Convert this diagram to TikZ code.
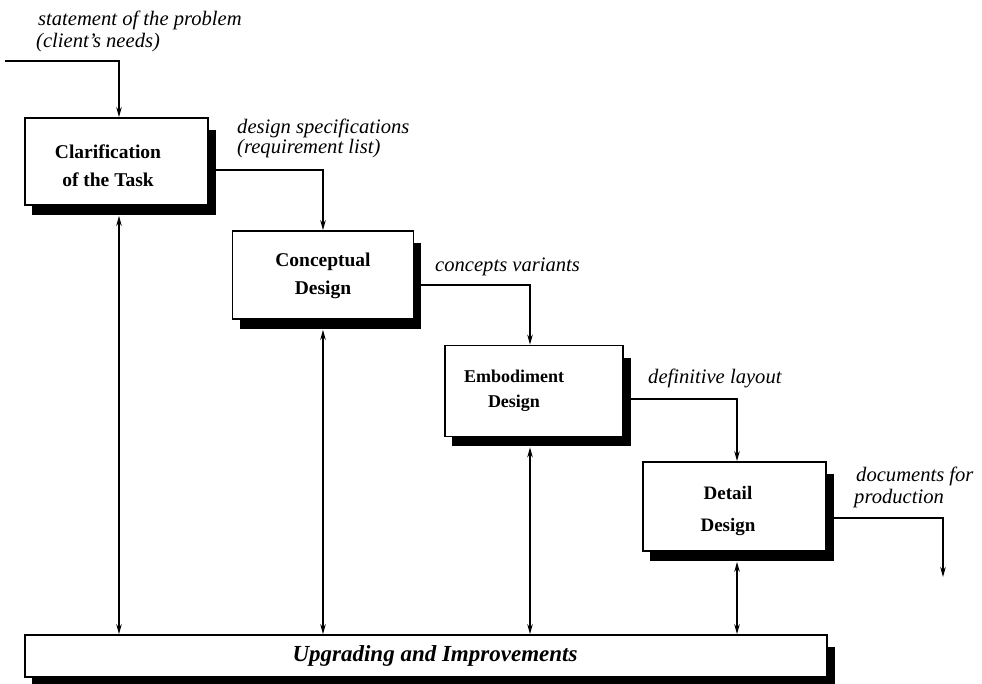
\documentclass[tikz,border=0pt]{standalone}
\usepackage{fontspec}
\setmainfont{Liberation Serif}
\usetikzlibrary{arrows.meta,calc,backgrounds}

\begin{document}
\begin{tikzpicture}[x=1pt,y=-1pt,
  panel/.style={draw=black, line width=1.8pt, fill=white, inner sep=0pt},
  caption/.style={align=center, inner sep=0pt, font=\bfseries\fontsize{19.5}{28}\selectfont},
  shade/.style={fill=black},
  tip/.tip={Stealth[length=10pt,width=5.5pt]},
  flow/.style={line width=1.3pt, -tip},
  link/.style={line width=1.3pt, tip-tip},
  lbl/.style={font=\itshape\fontsize{20.6}{24}\selectfont, inner sep=0pt, anchor=base west}]

\useasboundingbox (0,0) rectangle (982,683);

% columns and rows of the connectors
\coordinate (c1) at (119,0);
\coordinate (c2) at (323,0);
\coordinate (c3) at (530,0);
\coordinate (c4) at (737,0);
\coordinate (r1) at (0,170);
\coordinate (r2) at (0,285);
\coordinate (r3) at (0,399);
\coordinate (r4) at (0,518);
\coordinate (in) at (5,61);
\coordinate (out) at (943,577);

% design phases
\node[panel, minimum width=183pt, minimum height=87pt] (b1) at (116.5,161.5) {};
\node[panel, minimum width=181pt, minimum height=88pt] (b2) at (323,275) {};
\node[panel, minimum width=178pt, minimum height=91pt] (b3) at (534,391) {};
\node[panel, minimum width=183pt, minimum height=89pt] (b4) at (734.5,506.5) {};
\node[panel, minimum width=802pt, minimum height=42pt] (bar) at (426,656) {};

\node[caption] (b1t) at (108,166) {Clarification\\of the Task};
\node[caption] (b2t) at (323,276) {Conceptual\\Design};
\node[caption, font=\bfseries\fontsize{18}{25}\selectfont] (b3t) at (514,391) {Embodiment\\Design};
\node[caption, font=\bfseries\fontsize{19}{32}\selectfont] (b4t) at (728,511) {Detail\\Design};
\node[inner sep=0pt, font=\bfseries\itshape\fontsize{23}{26}\selectfont] (bart) at (435,656) {Upgrading and Improvements};

% drop shadows behind the boxes
\begin{scope}[on background layer]
  \foreach \b in {b1,b2,b3,b4}
    \fill[shade] ($(\b.north west)+(8,13)$) rectangle ($(\b.south east)+(7,9)$);
  \fill[shade] ($(bar.north west)+(8,13)$) rectangle ($(bar.south east)+(7,7)$);
\end{scope}

% results passed between phases
\node[lbl] (t1) at (38,25) {statement of the problem};
\node[lbl] (t2) at (36,47) {(client's needs)};
\node[lbl] (t3) at (237,133) {design specifications};
\node[lbl] (t4) at (237,153) {(requirement list)};
\node[lbl] (t5) at (435,271) {concepts variants};
\node[lbl] (t6) at (648,383) {definitive layout};
\node[lbl] (t7) at (856,481) {documents for};
\node[lbl] (t8) at (854,503) {production};

% flow through the phases
\draw[flow] (in) -| (b1.north -| c1);
\draw[flow] (b1.east |- r1) -| (b2.north -| c2);
\draw[flow] (b2.east |- r2) -| (b3.north -| c3);
\draw[flow] (b3.east |- r3) -| (b4.north -| c4);
\draw[flow] (b4.east |- r4) -| (out);

% feedback with upgrading and improvements
\draw[link] ($(b1.south -| c1)+(0,10)$) -- (bar.north -| c1);
\draw[link] ($(b2.south -| c2)+(0,10)$) -- (bar.north -| c2);
\draw[link] ($(b3.south -| c3)+(0,10)$) -- (bar.north -| c3);
\draw[link] ($(b4.south -| c4)+(0,10)$) -- (bar.north -| c4);
\end{tikzpicture}
\end{document}
